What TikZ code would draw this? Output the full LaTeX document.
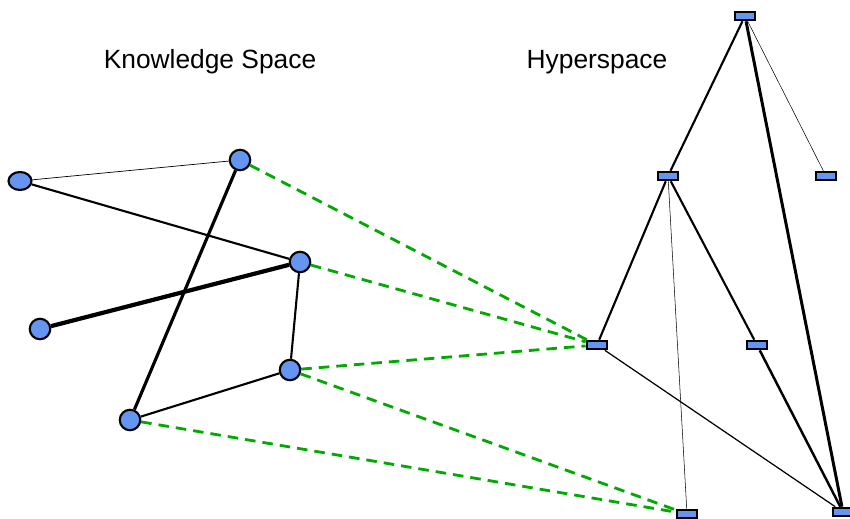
\documentclass[tikz,border=0pt]{standalone}
\usepackage{fontspec}
\setmainfont{Liberation Sans}
\usetikzlibrary{shapes.geometric}
\begin{document}
\begin{tikzpicture}[x=0.02cm, y=-0.02cm]
            \definecolor{node_color}{RGB}{100,149,240}
            \definecolor{map_color}{RGB}{0,170,0}
            \tikzstyle{every node} = [draw, fill=node_color, line width=1.2pt, inner sep=0pt]
            \tikzstyle{ks} = [shape=circle, minimum size=0.41cm]
            \tikzstyle{hs} = [shape=rectangle, minimum width=0.41cm, minimum height=0.17cm]
            \tikzstyle{ann} = [draw=none, fill=none, text=black, font=\fontsize{15}{18}\selectfont]
            \tikzstyle{map} = [map_color, line width=1.6pt, dash pattern=on 6pt off 4pt]
            \useasboundingbox (0,0) rectangle (850,519);
            \node[ann] (t0) at (210,62) {Knowledge Space};
            \node[ann] (t1) at (597,62) {Hyperspace};
            % knowledge space
            \node[ks, minimum width=0.46cm, minimum height=0.36cm, shape=ellipse] (k0) at (20,181) {};
            \node[ks] (k1) at (240,160) {};
            \node[ks] (k2) at (300,262) {};
            \node[ks] (k3) at (40,329) {};
            \node[ks] (k4) at (290,370) {};
            \node[ks] (k5) at (130,420) {};
            % hyperspace
            \node[hs] (h0) at (745,16) {};
            \node[hs] (h1) at (668,176) {};
            \node[hs] (h2) at (826,176) {};
            \node[hs] (h3) at (597,345) {};
            \node[hs] (h4) at (757,345) {};
            \node[hs] (h5) at (687,514) {};
            \node[hs] (h6) at (843,512) {};
            \draw[line width=0.4pt] (k0) -- (k1);
            \draw[line width=1.2pt] (k0) -- (k2);
            \draw[line width=1.8pt] (k1) -- (k5);
            \draw[line width=2.4pt] (k2) -- (k3);
            \draw[line width=1.2pt] (k2) -- (k4);
            \draw[line width=1.2pt] (k4) -- (k5);
            \draw[line width=1.2pt] (h0) -- (h1);
            \draw[line width=0.3pt] (h0) -- (h2);
            \draw[line width=1.7pt] (h0) -- (h6);
            \draw[line width=1.2pt] (h1) -- (h3);
            \draw[line width=1.2pt] (h1) -- (h4);
            \draw[line width=0.3pt] (h1) -- (h5);
            \draw[line width=0.7pt] (h3) -- (h6);
            \draw[line width=1.4pt] (h4) -- (h6);
            \draw[map] (k1) -- (h3);
            \draw[map] (k2) -- (h3);
            \draw[map] (k4) -- (h3);
            \draw[map] (k4) -- (h5);
            \draw[map] (k5) -- (h5);
\end{tikzpicture}
\end{document}
